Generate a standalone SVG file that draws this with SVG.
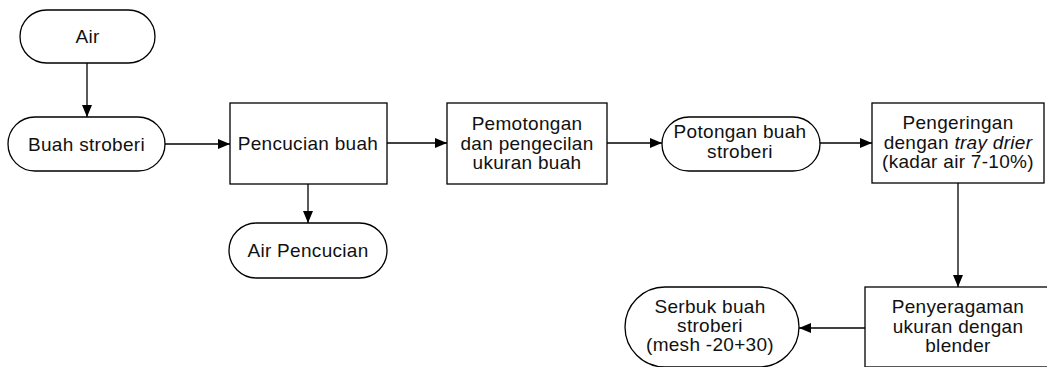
<svg xmlns="http://www.w3.org/2000/svg" width="1047" height="367" viewBox="0 0 1047 367">
<style>
.s{fill:#fff;stroke:#000;stroke-width:1.3}
.t{font-family:"Liberation Sans",Arial,sans-serif;font-size:19px;fill:#111;text-anchor:middle;letter-spacing:0.3px}
.c{fill:none;stroke:#000;stroke-width:1.3}
</style>
<defs>
<marker id="ah" markerUnits="userSpaceOnUse" markerWidth="12" markerHeight="10" refX="12" refY="5" orient="auto">
<path d="M0,0 L12,5 L0,10 z" fill="#000"/>
</marker>
</defs>
<rect width="1047" height="367" fill="#fff"/>
<g id="connectors">
<line class="c" x1="87" y1="63" x2="87" y2="117" marker-end="url(#ah)"/>
<line class="c" x1="165" y1="144" x2="230" y2="144" marker-end="url(#ah)"/>
<line class="c" x1="308" y1="184" x2="308" y2="223" marker-end="url(#ah)"/>
<line class="c" x1="387" y1="143" x2="447" y2="143" marker-end="url(#ah)"/>
<line class="c" x1="607" y1="143" x2="662" y2="143" marker-end="url(#ah)"/>
<line class="c" x1="820" y1="143" x2="872" y2="143" marker-end="url(#ah)"/>
<line class="c" x1="958" y1="183" x2="958" y2="287" marker-end="url(#ah)"/>
<line class="c" x1="865" y1="328" x2="799" y2="328" marker-end="url(#ah)"/>
</g>
<g id="air">
<rect class="s" x="20" y="10" width="135" height="53" rx="26.5"/>
<text class="t" x="87.5" y="43">Air</text>
</g>
<g id="buah-stroberi">
<rect class="s" x="8" y="117" width="157" height="54" rx="27"/>
<text class="t" x="86.5" y="151">Buah stroberi</text>
</g>
<g id="pencucian">
<rect class="s" x="230" y="103" width="157" height="81"/>
<text class="t" x="308" y="150">Pencucian buah</text>
</g>
<g id="air-pencucian">
<rect class="s" x="229" y="223" width="158" height="55" rx="27.5"/>
<text class="t" x="308" y="257">Air Pencucian</text>
</g>
<g id="pemotongan">
<rect class="s" x="447" y="103" width="160" height="81"/>
<text class="t" x="527" y="129.5">Pemotongan</text>
<text class="t" x="527" y="149.5">dan pengecilan</text>
<text class="t" x="527" y="169">ukuran buah</text>
</g>
<g id="potongan">
<rect class="s" x="662" y="117" width="158" height="54" rx="27"/>
<text class="t" x="740" y="138">Potongan buah</text>
<text class="t" x="740" y="158">stroberi</text>
</g>
<g id="pengeringan">
<rect class="s" x="872" y="103" width="172" height="80"/>
<text class="t" x="958" y="129">Pengeringan</text>
<text class="t" x="958" y="149">dengan <tspan font-style="italic">tray drier</tspan></text>
<text class="t" x="958" y="168">(kadar air 7-10%)</text>
</g>
<g id="penyeragaman">
<rect class="s" x="865" y="287" width="190" height="80"/>
<text class="t" x="958" y="313">Penyeragaman</text>
<text class="t" x="958" y="333">ukuran dengan</text>
<text class="t" x="958" y="352">blender</text>
</g>
<g id="serbuk">
<rect class="s" x="625" y="287" width="174" height="80" rx="40"/>
<text class="t" x="710" y="313">Serbuk buah</text>
<text class="t" x="710" y="332">stroberi</text>
<text class="t" x="710" y="351">(mesh -20+30)</text>
</g>
</svg>
